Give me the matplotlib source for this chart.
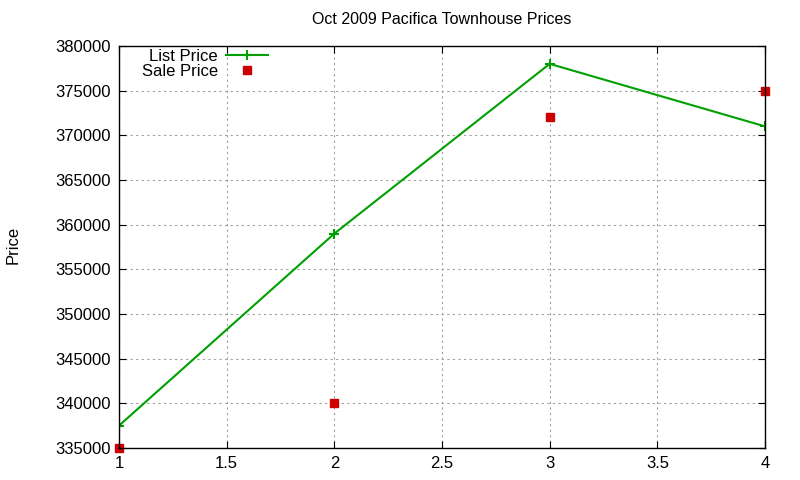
import matplotlib
matplotlib.use("Agg")
import matplotlib.pyplot as plt

plt.rcParams['font.family'] = ['Liberation Sans', 'DejaVu Sans']

x = [1, 2, 3, 4]
list_price = [337500, 359000, 378000, 371000]
sale_price = [335000, 340000, 372000, 375000]

fig = plt.figure(figsize=(8, 4.8), dpi=100)
ax = fig.add_axes([0.14875, 0.0667, 0.8075, 0.8375])

ax.plot(x, list_price, color='#00a000', lw=1.5, marker='+', ms=7, mew=1.5, label='List Price')
ax.plot(x, sale_price, ls='none', color='#cc0000', marker='s', ms=6, label='Sale Price', clip_on=False)

ax.set_xlim(1, 4)
ax.set_ylim(335000, 380000)
ax.set_xticks([1, 1.5, 2, 2.5, 3, 3.5, 4])
ax.set_xticklabels(['1', '1.5', '2', '2.5', '3', '3.5', '4'])
ax.set_yticks(range(335000, 380001, 5000))
ax.tick_params(direction='in', top=True, right=True, labelsize=12, length=5, pad=6)
ax.grid(True, color='#a0a0a0', ls=(0, (2, 3)), lw=0.8)
for s in ax.spines.values():
    s.set_linewidth(1.0)

ax.set_title('Oct 2009 Pacifica Townhouse Prices', fontsize=11.5, pad=16)
fig.text(0.016, 0.49, 'Price', rotation=90, fontsize=12, va='center', ha='center')

leg = ax.legend(loc='upper left', bbox_to_anchor=(0.012, 1.03), frameon=False, markerfirst=False,
                fontsize=12, handlelength=2.5, labelspacing=0.0, handletextpad=0.5)
for t in leg.get_texts():
    t.set_ha('right')

fig.savefig('out.png', dpi=100)
